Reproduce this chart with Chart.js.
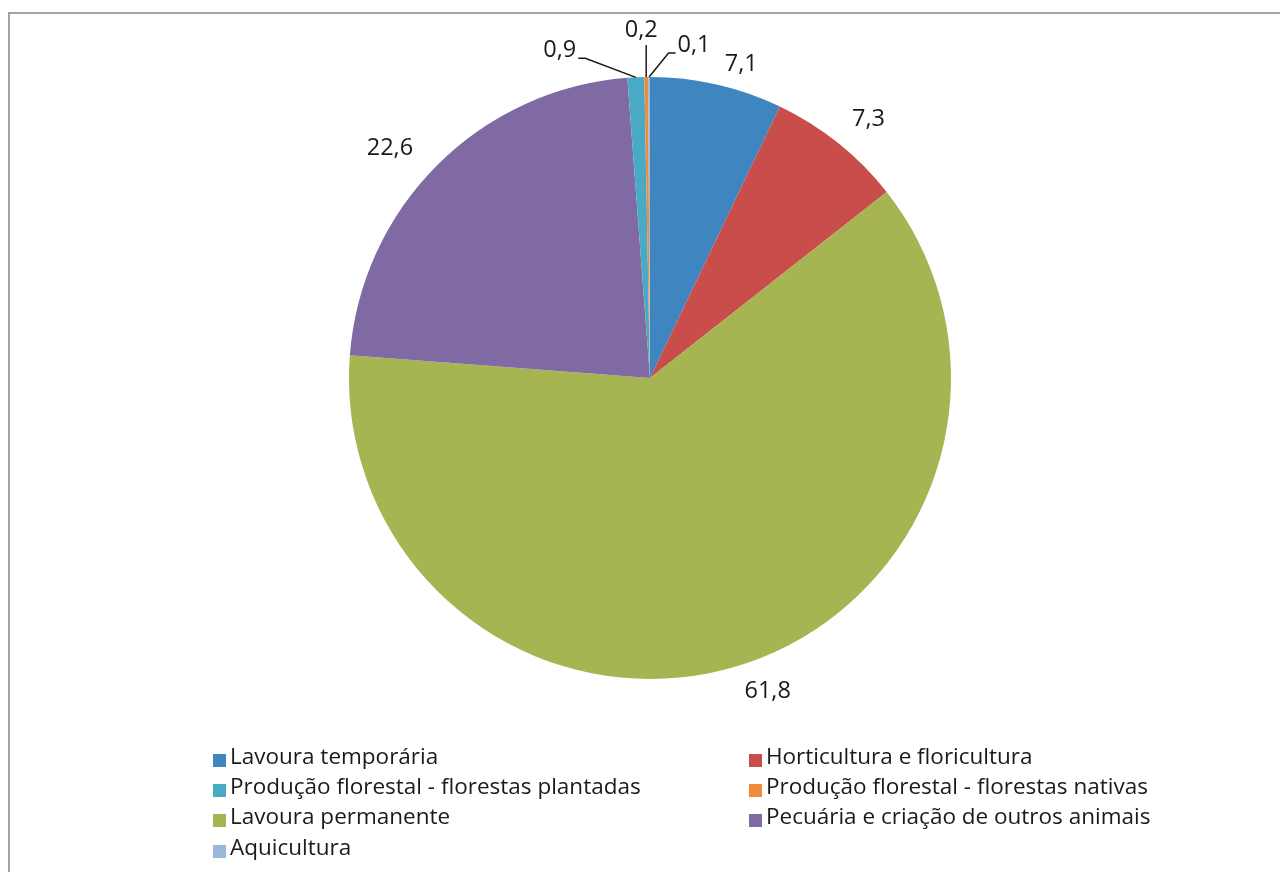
<!DOCTYPE html>
<html>
<head>
<meta charset="utf-8">
<script src="https://cdn.jsdelivr.net/npm/chart.js@4"></script>
<style>
  html, body { margin: 0; padding: 0; background: #fff; }
  #wrap { position: relative; width: 1280px; height: 872px; }
  #frame { position: absolute; left: 8px; top: 12px; right: -10px; bottom: -10px;
           border-top: 2px solid #a3a3a3; border-left: 2px solid #a3a3a3; }
  canvas { position: absolute; left: 0; top: 0; }
</style>
</head>
<body>
<div id="wrap">
  <div id="frame"></div>
  <canvas id="pie" width="1280" height="872"></canvas>
</div>
<script>
// slices, clockwise from 12 o'clock
const categories = [
  'Lavoura temporária',
  'Horticultura e floricultura',
  'Lavoura permanente',
  'Pecuária e criação de outros animais',
  'Produção florestal - florestas plantadas',
  'Produção florestal - florestas nativas',
  'Aquicultura'
];
const shares = [7.1, 7.3, 61.8, 22.6, 0.9, 0.2, 0.1];
const colors = ['#3f85bf', '#c84d4b', '#a6b552', '#7f6aa3', '#48aac4', '#ef8c3a', '#9ab8dc'];

// legend reads row by row in two columns
const legendOrder = [0, 1, 4, 5, 2, 3, 6];

// label nudges (px) relative to default outside-end spot; leader = small slices
const labelNudge = [[20, 1], [14, -3], [23, 2], [-25, 5], null, null, null];
const leaderOffset = [null, null, null, null, [-76, -27, 'left'], [-5, -47, 'up'], [45, -32, 'right']];

const LABEL_FONT = '23.5px "Open Sans", sans-serif';
const LEGEND_FONT = '22.5px "Open Sans", sans-serif';
const fmt = v => v.toFixed(1).replace('.', ',');

const pieLabels = {
  id: 'pieLabels',
  afterDatasetsDraw(chart) {
    const ctx = chart.ctx;
    const meta = chart.getDatasetMeta(0);
    ctx.save();
    ctx.font = LABEL_FONT;
    ctx.fillStyle = '#1a1a1a';
    ctx.strokeStyle = '#1a1a1a';
    ctx.lineWidth = 1.5;
    ctx.textAlign = 'center';
    ctx.textBaseline = 'middle';
    meta.data.forEach((arc, i) => {
      const { x, y, startAngle, endAngle, outerRadius } = arc.getProps(['x', 'y', 'startAngle', 'endAngle', 'outerRadius'], true);
      const mid = (startAngle + endAngle) / 2;
      const cx = Math.cos(mid), sy = Math.sin(mid);
      const txt = fmt(shares[i]);
      const w = ctx.measureText(txt).width;
      if (leaderOffset[i]) {
        const ax = x + outerRadius * cx, ay = y + outerRadius * sy;
        const [dx, dy, side] = leaderOffset[i];
        const lx = ax + dx, ly = ay + dy;
        ctx.fillText(txt, lx, ly);
        ctx.beginPath();
        if (side === 'up') {
          ctx.moveTo(ax, ly + 15);
          ctx.lineTo(ax, ay);
        } else {
          const sgn = side === 'left' ? 1 : -1;
          const sx = lx + sgn * (w / 2 + 2), yy = ly + 8;
          ctx.moveTo(sx, yy);
          ctx.lineTo(sx + sgn * 7, yy);
          ctx.lineTo(ax, ay);
        }
        ctx.stroke();
      } else {
        const r = outerRadius + 8;
        const off = (w / 2) * Math.abs(cx) + 10 * Math.abs(sy);
        const [nx, ny] = labelNudge[i];
        ctx.fillText(txt, x + (r + off) * cx + nx, y + (r + off) * sy + ny);
      }
    });
    ctx.restore();
  }
};

const boxLegend = {
  id: 'boxLegend',
  afterDraw(chart) {
    const ctx = chart.ctx;
    const colX = [213, 749];
    const rowY = [758, 788, 818, 849];
    ctx.save();
    ctx.font = LEGEND_FONT;
    ctx.textBaseline = 'middle';
    ctx.textAlign = 'left';
    legendOrder.forEach((k, n) => {
      const bx = colX[n % 2], by = rowY[Math.floor(n / 2)];
      ctx.fillStyle = colors[k];
      ctx.fillRect(bx, by - 4, 13, 13);
      ctx.fillStyle = '#1a1a1a';
      ctx.fillText(categories[k], bx + 17, by);
    });
    ctx.restore();
  }
};

new Chart(document.getElementById('pie'), {
  type: 'pie',
  data: {
    labels: categories,
    datasets: [{
      data: shares,
      backgroundColor: colors,
      borderWidth: 0
    }]
  },
  options: {
    responsive: false,
    animation: false,
    layout: { padding: { top: 77, bottom: 193, left: 20, right: 0 } },
    plugins: { legend: { display: false }, tooltip: { enabled: false } }
  },
  plugins: [pieLabels, boxLegend]
});
</script>
</body>
</html>
